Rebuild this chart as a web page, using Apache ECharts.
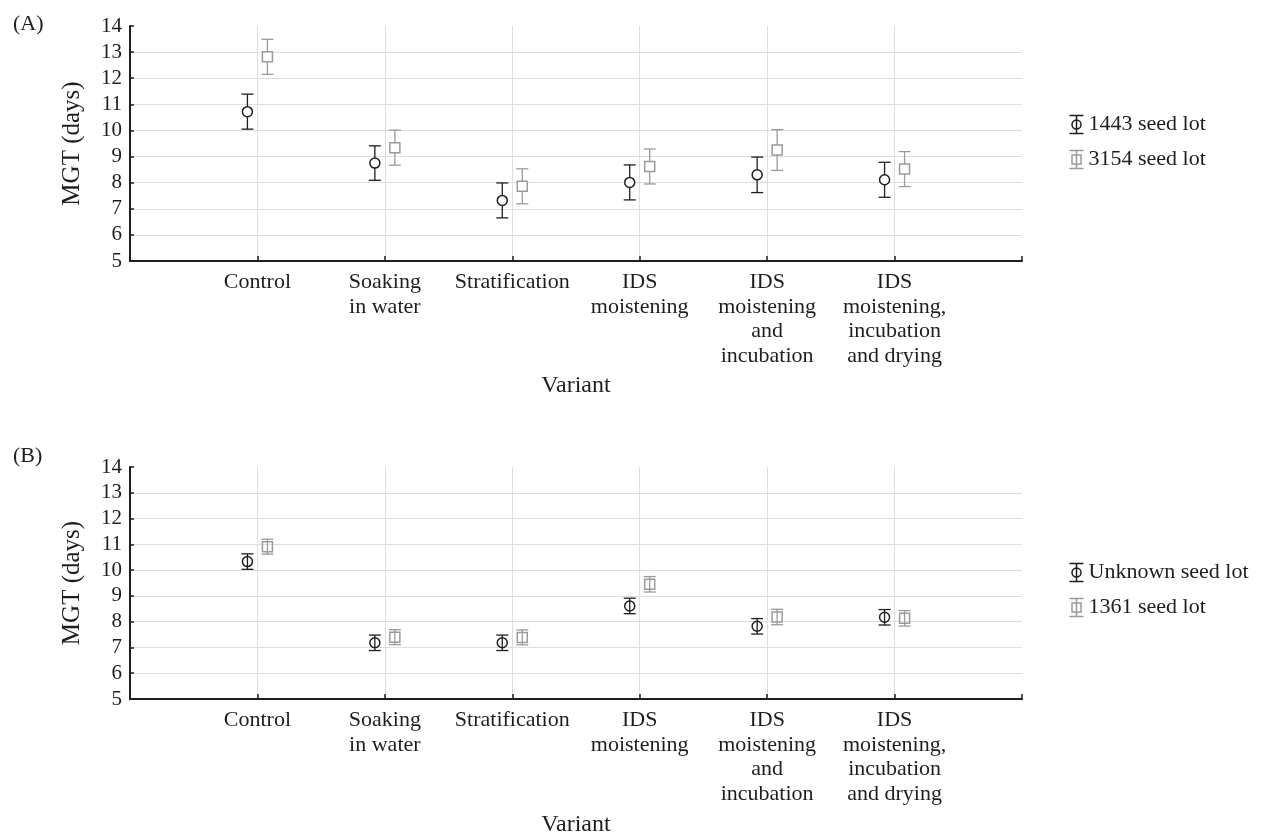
<!DOCTYPE html>
<html>
<head>
<meta charset="utf-8">
<script src="https://cdn.jsdelivr.net/npm/echarts@6/dist/echarts.min.js"></script>
<style>
  html, body { margin: 0; padding: 0; background: #fff; }
  #chart { width: 1267px; height: 838px; }
</style>
</head>
<body>
<div id="chart"></div>
<script>
// ---------- Data ----------
var categories = [
  'Control',
  'Soaking\nin water',
  'Stratification',
  'IDS\nmoistening',
  'IDS\nmoistening\nand\nincubation',
  'IDS\nmoistening,\nincubation\nand drying'
];
var yMin = 5, yMax = 14, yStep = 1;

// Panel (A)
var panelATitle = '(A)';
var seriesA1Name = '1443 seed lot';
var seriesA1Mean = [10.72, 8.75, 7.32, 8.01, 8.30, 8.11];
var seriesA1Err  = [0.67, 0.66, 0.67, 0.67, 0.68, 0.67];
var seriesA2Name = '3154 seed lot';
var seriesA2Mean = [12.82, 9.34, 7.86, 8.62, 9.25, 8.52];
var seriesA2Err  = [0.67, 0.67, 0.67, 0.67, 0.78, 0.67];

// Panel (B)
var panelBTitle = '(B)';
var seriesB1Name = 'Unknown seed lot';
var seriesB1Mean = [10.33, 7.18, 7.18, 8.61, 7.82, 8.17];
var seriesB1Err  = [0.30, 0.30, 0.30, 0.30, 0.30, 0.30];
var seriesB2Name = '1361 seed lot';
var seriesB2Mean = [10.91, 7.40, 7.39, 9.45, 8.18, 8.13];
var seriesB2Err  = [0.29, 0.29, 0.29, 0.30, 0.30, 0.30];

var yAxisName = 'MGT (days)';
var xAxisName = 'Variant';

// ---------- Styling ----------
var FONT = '"Liberation Serif", "Times New Roman", serif';
var DARK = '#1e1e1e';
var GRAY = '#9a9a9a';
var GRID_COLOR = '#dedede';
var OFFSET = 10; // pixel offset of each series from category centre

function pointData(means) {
  return means.map(function (m, i) { return [i + 1, m]; });
}
function errData(means, errs) {
  return means.map(function (m, i) { return [i + 1, m, m - errs[i], m + errs[i]]; });
}
function errRender(dx, color) {
  return function (params, api) {
    var x = api.value(0);
    var top = api.coord([x, api.value(3)]);
    var bot = api.coord([x, api.value(2)]);
    var cx = top[0] + dx, hw = 6;
    var st = { stroke: color, lineWidth: 1.3, fill: 'none' };
    return {
      type: 'group',
      children: [
        { type: 'line', shape: { x1: cx, y1: top[1], x2: cx, y2: bot[1] }, style: st },
        { type: 'line', shape: { x1: cx - hw, y1: top[1], x2: cx + hw, y2: top[1] }, style: st },
        { type: 'line', shape: { x1: cx - hw, y1: bot[1], x2: cx + hw, y2: bot[1] }, style: st }
      ]
    };
  };
}

var circleIcon = 'path://M0,0 L14,0 M7,0 L7,18 M0,18 L14,18 M11.5,9 A4.5,4.5 0 1 1 2.5,9 A4.5,4.5 0 1 1 11.5,9 Z';
var squareIcon = 'path://M0,0 L14,0 M7,0 L7,18 M0,18 L14,18 M2.5,4.5 L11.5,4.5 L11.5,13.5 L2.5,13.5 Z';

function makeXAxis(gridIndex, nameGap) {
  return {
    type: 'value', gridIndex: gridIndex, min: 0, max: categories.length + 1, interval: 1,
    name: xAxisName, nameLocation: 'middle', nameGap: nameGap,
    nameTextStyle: { fontFamily: FONT, fontSize: 24, color: DARK },
    axisLine: { show: true, onZero: false, lineStyle: { color: DARK, width: 2 } },
    axisTick: { show: true, inside: true, length: 5, lineStyle: { color: DARK, width: 1.5 } },
    axisLabel: {
      fontFamily: FONT, fontSize: 22, lineHeight: 24.5, color: DARK, margin: 9,
      formatter: function (v) {
        return (v >= 1 && v <= categories.length) ? categories[v - 1] : '';
      }
    },
    splitLine: { show: true, showMinLine: false, showMaxLine: false, lineStyle: { color: GRID_COLOR, width: 1 } }
  };
}
function makeYAxis(gridIndex) {
  return {
    type: 'value', gridIndex: gridIndex, min: yMin, max: yMax, interval: yStep,
    name: yAxisName, nameLocation: 'middle', nameGap: 45,
    nameTextStyle: { fontFamily: FONT, fontSize: 25, color: DARK },
    axisLine: { show: true, onZero: false, lineStyle: { color: DARK, width: 2 } },
    axisTick: { show: true, inside: true, length: 4, lineStyle: { color: DARK, width: 1.5 } },
    axisLabel: { fontFamily: FONT, fontSize: 21, color: DARK, margin: 8 },
    splitLine: { show: true, showMinLine: false, showMaxLine: false, lineStyle: { color: GRID_COLOR, width: 1 } }
  };
}

function makeSeries(idx, name, means, errs, dx, color, symbol, fill) {
  return [
    {
      name: name, type: 'custom', xAxisIndex: idx, yAxisIndex: idx,
      renderItem: errRender(dx, color),
      encode: { x: 0, y: [1, 2, 3] },
      data: errData(means, errs), z: 2, silent: true
    },
    {
      name: name, type: 'scatter', xAxisIndex: idx, yAxisIndex: idx,
      symbol: symbol, symbolSize: 10, symbolOffset: [dx, 0],
      itemStyle: { color: fill, borderColor: color, borderWidth: 1.5, opacity: 1 },
      data: pointData(means), z: 3, silent: true
    }
  ];
}

function makeLegend(top, items) {
  return {
    orient: 'vertical', left: 1062, top: top, itemWidth: 14, itemHeight: 18, itemGap: 12,
    selectedMode: false,
    textStyle: { fontFamily: FONT, fontSize: 22, color: DARK, lineHeight: 18 },
    data: items
  };
}

var chart = echarts.init(document.getElementById('chart'), null, { renderer: 'canvas' });
var option = {
  backgroundColor: '#ffffff',
  animation: false,
  title: [
    { text: panelATitle, left: 8, top: 8, textStyle: { fontFamily: FONT, fontSize: 22, fontWeight: 'normal', color: DARK } },
    { text: panelBTitle, left: 8, top: 440, textStyle: { fontFamily: FONT, fontSize: 22, fontWeight: 'normal', color: DARK } }
  ],
  grid: [
    { left: 130, right: 245, top: 26, height: 235 },
    { left: 130, right: 245, top: 467, height: 235 }
  ],
  xAxis: [makeXAxis(0, 113), makeXAxis(1, 114)],
  yAxis: [makeYAxis(0), makeYAxis(1)],
  legend: [
    makeLegend(108, [
      { name: seriesA1Name, icon: circleIcon, itemStyle: { color: 'none', borderColor: DARK, borderWidth: 1.5 } },
      { name: seriesA2Name, icon: squareIcon, itemStyle: { color: 'none', borderColor: GRAY, borderWidth: 1.5 } }
    ]),
    makeLegend(556, [
      { name: seriesB1Name, icon: circleIcon, itemStyle: { color: 'none', borderColor: DARK, borderWidth: 1.5 } },
      { name: seriesB2Name, icon: squareIcon, itemStyle: { color: 'none', borderColor: GRAY, borderWidth: 1.5 } }
    ])
  ],
  series: [].concat(
    makeSeries(0, seriesA1Name, seriesA1Mean, seriesA1Err, -OFFSET, DARK, 'circle', '#ffffff'),
    makeSeries(0, seriesA2Name, seriesA2Mean, seriesA2Err, OFFSET, GRAY, 'rect', '#ffffff'),
    makeSeries(1, seriesB1Name, seriesB1Mean, seriesB1Err, -OFFSET, DARK, 'circle', 'rgba(0,0,0,0)'),
    makeSeries(1, seriesB2Name, seriesB2Mean, seriesB2Err, OFFSET, GRAY, 'rect', 'rgba(0,0,0,0)')
  )
};
chart.setOption(option);
</script>
</body>
</html>
